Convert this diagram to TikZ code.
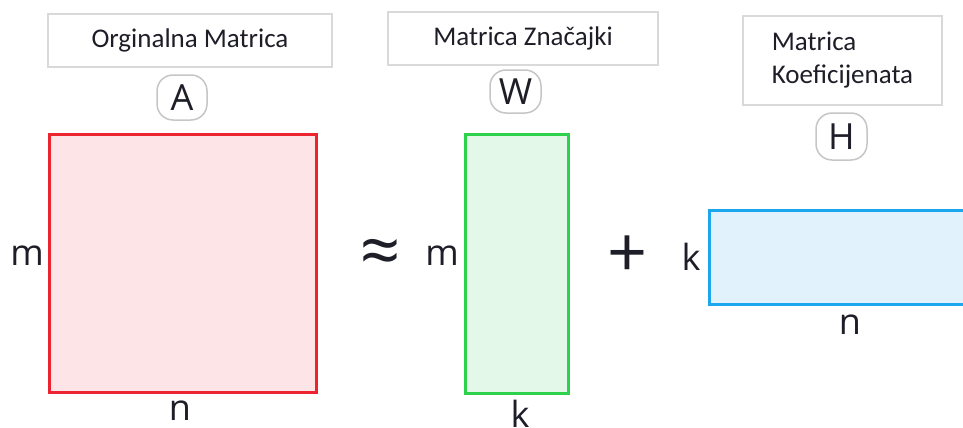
\documentclass[tikz,border=0pt]{standalone}
\usepackage{fontspec}
\setmainfont{Carlito}
\newfontfamily\segoe{Open Sans}

\definecolor{redline}{HTML}{EC2430}
\definecolor{redfill}{HTML}{FCE4E7}
\definecolor{greenline}{HTML}{2CD24C}
\definecolor{greenfill}{HTML}{E3F8E9}
\definecolor{blueline}{HTML}{1CA6EE}
\definecolor{bluefill}{HTML}{E1F2FD}
\definecolor{ink}{HTML}{1E1E28}

\begin{document}
\begin{tikzpicture}[x=1pt,y=-1pt,
  titlebox/.style={draw=gray!30,line width=1.5pt,inner sep=0pt,text=ink,
    font=\fontsize{27}{33}\selectfont},
  letterbox/.style={draw=gray!45,line width=1.5pt,rounded corners=16pt,inner sep=0pt,
    text=ink,font=\segoe\fontsize{36}{36}\selectfont},
  dimlabel/.style={inner sep=0pt,text=ink,font=\segoe\fontsize{36}{36}\selectfont},
  opsign/.style={inner sep=0pt,text=ink,font=\segoe\fontsize{70}{70}\selectfont}]

\useasboundingbox (0,0) rectangle (963,428);

% matrix A
\draw[line width=3pt, draw=redline, fill=redfill] (49.5,134.5) rectangle (316.5,392.5);
\node[titlebox, minimum width=284, minimum height=53] (titleA) at (190,40.5) {Orginalna Matrica};
\node[letterbox, minimum width=50, minimum height=45] (A) at (182,97.5) {A};
\node[dimlabel] (mA) at (27,256) {m};
\node[dimlabel] (nA) at (180,411) {n};

\node[opsign] (approx) at (381,257) {≈};

% matrix W
\draw[line width=3pt, draw=greenline, fill=greenfill] (465.5,134.5) rectangle (568.5,393.5);
\node[titlebox, minimum width=270, minimum height=53] (titleW) at (523,38.5) {Matrica Značajki};
\node[letterbox, minimum width=51, minimum height=43] (W) at (515.5,91.5) {W};
\node[dimlabel] (mW) at (442,256) {m};
\node[dimlabel] (kW) at (520,414) {k};

\node[opsign] (plus) at (628,257) {+};

% matrix H
\draw[line width=3pt, draw=blueline, fill=bluefill] (709.5,210.5) rectangle (990,304.5);
\node[titlebox, minimum width=199, minimum height=89, align=left] (titleH) at (842.5,60.5) {Matrica\\Koeficijenata};
\node[letterbox, minimum width=51, minimum height=47] (H) at (841.5,136.5) {H};
\node[dimlabel] (kH) at (691,257) {k};
\node[dimlabel] (nH) at (850,325) {n};

\end{tikzpicture}
\end{document}
